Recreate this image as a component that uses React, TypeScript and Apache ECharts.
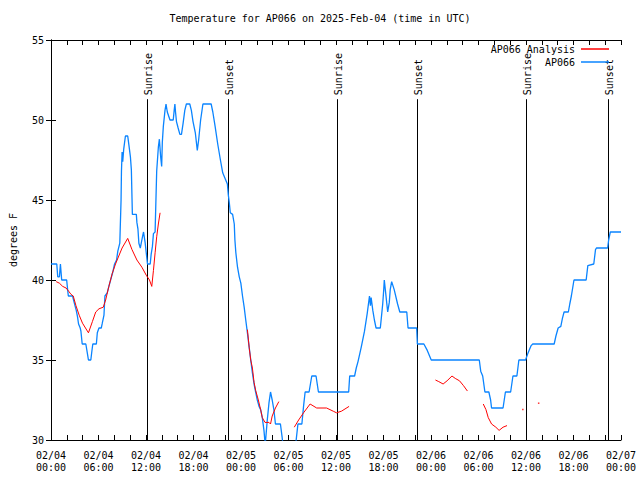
import React, { useEffect, useRef } from "react";
import * as echarts from "echarts";

// Hours since 02/04 00:00 UTC, temperature in °F
const ap066: [number, number][] = [
  [0,41],[0.73,41],[0.85,40.2],[1.06,40.2],[1.19,41],[1.27,40.5],[1.35,40],[1.98,40],[2.1,39.4],[2.19,39],[2.73,39],[2.85,38.75],[3.03,38.4],[3.19,38.1],[3.35,37.7],[3.48,37.25],[3.69,37],[3.78,36.8],[3.94,36],[4.4,36],[4.6,35.4],[4.73,35],[5.03,35],[5.15,35.5],[5.28,36],[5.73,36],[5.85,36.7],[6.06,37],[6.35,37],[6.48,37.3],[6.69,37.8],[6.81,39],[7.1,39.2],[7.31,39.6],[7.53,40],[7.81,40.5],[8.03,41],[8.28,41.25],[8.44,41.8],[8.69,42.3],[8.85,45],[8.9,46.8],[8.98,48],[9.06,47.4],[9.19,48.2],[9.4,49],[9.69,49],[9.85,48.4],[10.03,47.7],[10.15,46.9],[10.28,44.1],[10.78,44.1],[10.85,43.6],[10.98,43.2],[11.1,42.3],[11.28,42],[11.4,42.3],[11.6,42.8],[11.69,43],[11.81,42.6],[11.9,42.3],[12.03,41.7],[12.19,41],[12.53,41],[12.65,41.6],[12.81,42.1],[12.94,42.9],[13.15,43],[13.35,46.8],[13.56,48.3],[13.69,48.8],[13.85,47.7],[13.98,47.1],[14.06,48.6],[14.19,49.6],[14.4,50.6],[14.53,51],[14.69,50.5],[15.03,50],[15.44,50],[15.56,50.6],[15.65,51],[15.73,50.5],[15.85,49.9],[16.06,49.5],[16.28,49.1],[16.48,49.1],[16.69,49.8],[16.9,50.6],[17.1,51],[17.53,51],[17.73,50.6],[17.94,49.9],[18.23,49.2],[18.48,48.1],[18.65,48.75],[18.9,50],[19.19,51],[20.23,51],[20.44,50.5],[20.73,49.6],[21.06,48.5],[21.4,47.5],[21.69,46.7],[22.03,46.3],[22.28,46],[22.4,45.3],[22.53,44.8],[22.65,44.2],[22.94,44.1],[23.15,43.5],[23.23,42.5],[23.35,41.7],[23.56,40.8],[23.78,40.2],[23.98,39.8],[24.19,39],[24.4,38.3],[24.6,37.5],[24.81,36.7],[25.03,35.8],[25.23,35],[25.44,34.2],[25.65,33.5],[25.85,33],[26.06,32.5],[26.28,32.1],[26.48,31.9],[26.69,31.4],[26.9,30.6],[27.06,29.7],[27.31,31.2],[27.53,32.3],[27.73,33],[27.94,32.5],[28.15,31.9],[28.35,31],[28.98,31],[29.19,30.2],[29.44,29],[30.69,29],[30.88,29.6],[31.19,31],[31.69,31],[31.9,32.1],[32.1,33],[32.6,33],[32.94,34],[33.48,34],[33.78,33],[37.6,33],[37.73,34],[38.35,34],[38.56,34.5],[38.78,34.9],[39.19,35.8],[39.6,36.8],[39.94,37.9],[40.23,39],[40.35,38.4],[40.44,38.9],[40.65,38.1],[40.85,37.5],[41.06,37],[41.6,37],[41.78,37.9],[41.9,38.5],[42.03,39.4],[42.1,40],[42.23,39.4],[42.53,38],[42.73,38.6],[42.85,39.4],[43.03,39.9],[43.35,39.4],[43.78,38.5],[44.06,38],[44.94,38],[45.1,37],[46.19,37],[46.28,36],[47.1,36],[47.53,35.6],[48.03,35],[54.1,35],[54.28,34.3],[54.53,34],[54.81,33],[55.31,33],[55.53,32.5],[55.65,32],[57.1,32],[57.4,33],[58.06,33],[58.35,34],[58.85,34],[59.1,35],[59.94,35],[60.23,35.4],[60.65,35.9],[60.85,36],[63.56,36],[63.78,36.5],[64.06,37],[64.4,37.1],[64.6,37.6],[64.81,38],[65.35,38],[65.53,38.5],[65.73,39],[66.06,40],[67.6,40],[67.81,40.9],[68.56,41],[68.78,41.9],[68.9,42],[70.31,42],[70.44,42.5],[70.65,43],[72,43]
];

const analysisSegments: [number, number][][] = [
  [[0.65,39.9],[1.06,39.8],[1.48,39.6],[1.9,39.5],[2.23,39.3],[2.53,39.1],[2.81,39.0],[3.15,38.4],[3.56,37.8],[3.98,37.3],[4.73,36.7],[5.23,37.4],[5.65,38.0],[6.06,38.2],[6.6,38.3],[6.9,38.75],[7.31,39.6],[7.73,40.4],[8.15,41.0],[8.56,41.5],[8.98,42.0],[9.69,42.6],[10.23,41.9],[10.85,41.25],[11.48,40.8],[12.03,40.3],[12.44,40.0],[12.73,39.6],[12.94,40.6],[13.15,41.7],[13.35,42.7],[13.56,43.5],[13.78,44.2]],
  [[24.81,36.9],[25.03,35.8],[25.23,35.0],[25.44,34.5],[25.65,33.6],[25.85,33.1],[26.19,32.5],[26.48,31.9],[26.69,31.4],[27.03,31.1],[27.53,31.1],[27.73,31.0],[27.94,31.5],[28.35,32.0],[28.78,32.4]],
  [[30.73,30.8],[31.28,31.25],[31.9,31.7],[32.73,32.25],[33.56,32.0],[34.81,32.0],[35.65,31.8],[36.06,31.7],[36.69,31.8],[37.65,32.1]],
  [[48.56,33.75],[48.98,33.65],[49.53,33.5],[50.03,33.7],[50.65,34.0],[51.06,33.85],[51.6,33.7],[52.1,33.4],[52.6,33.06]],
  [[54.6,32.25],[54.94,31.9],[55.23,31.4],[55.65,31.0],[56.19,30.8],[56.6,30.6],[57.1,30.8],[57.6,30.9]],
  [[59.6,31.9]],
  [[61.6,32.3]],
];

const sunHours = [12.1, 22.35, 36.1, 46.23, 59.98, 70.31];
const sunLabels = ["Sunrise", "Sunset", "Sunrise", "Sunset", "Sunrise", "Sunset"];
const sunLineTop = 51.3;

const yTicks = [30, 35, 40, 45, 50, 55];
const dayLabels = ["02/04", "02/05", "02/06", "02/07"];

const FONT = "DejaVu Sans Mono";

export default function App() {
  const ref = useRef<HTMLDivElement>(null);
  useEffect(() => {
    if (!ref.current) return;
    document.body.style.margin = "0";
    const chart = echarts.init(ref.current, null, { renderer: "svg" });

    const lineData: any[] = [];
    const dotData: any[] = [];
    analysisSegments.forEach((seg, i) => {
      if (seg.length === 1) {
        dotData.push(seg[0]);
      } else {
        if (i > 0) lineData.push([null, null]);
        seg.forEach((p) => lineData.push(p));
      }
    });

    const fmtX = (v: number) => {
      const d = Math.floor(v / 24);
      const hh = Math.round(v - d * 24);
      return dayLabels[d] + "\n" + (hh < 10 ? "0" : "") + hh + ":00";
    };

    const axisCommon = {
      type: "value" as const,
      axisLine: { show: true, lineStyle: { color: "#000", width: 1 } },
      splitLine: { show: false },
    };

    chart.setOption({
      animation: false,
      backgroundColor: "#fff",
      title: {
        text: "Temperature for AP066 on 2025-Feb-04 (time in UTC)",
        left: "center",
        top: 8,
        textStyle: { fontFamily: FONT, fontSize: 10, fontWeight: "normal", color: "#000" },
      },
      legend: {
        orient: "vertical",
        right: 31,
        top: 43,
        padding: 0,
        align: "right",
        itemWidth: 28,
        itemHeight: 1.5,
        itemGap: 1,
        icon: "rect",
        data: ["AP066 Analysis", "AP066"],
        textStyle: { fontFamily: FONT, fontSize: 10, color: "#000", lineHeight: 12, padding: [0, 1, 0, 0] },
      },
      grid: { left: 46, right: 19, top: 40, bottom: 40 },
      xAxis: [
        {
          ...axisCommon,
          min: 0,
          max: 72,
          interval: 6,
          position: "bottom",
          axisTick: { show: true, inside: true, length: 5, lineStyle: { color: "#000" } },
          minorTick: { show: true, splitNumber: 3, length: 5, lineStyle: { color: "#000" } },
          axisLabel: {
            formatter: fmtX,
            fontFamily: FONT,
            fontSize: 10,
            color: "#000",
            lineHeight: 12,
            margin: 9,
            showMinLabel: true,
            showMaxLabel: true,
          },
        },
        {
          ...axisCommon,
          min: 0,
          max: 72,
          interval: 6,
          position: "top",
          axisTick: { show: true, inside: true, length: 5, lineStyle: { color: "#000" } },
          minorTick: { show: true, splitNumber: 3, length: 5, lineStyle: { color: "#000" } },
          axisLabel: { show: false },
        },
      ],
      yAxis: [
        {
          ...axisCommon,
          min: yTicks[0],
          max: yTicks[yTicks.length - 1],
          interval: 5,
          position: "left",
          name: "degrees F",
          nameLocation: "middle",
          nameGap: 33,
          nameRotate: 90,
          nameTextStyle: { fontFamily: FONT, fontSize: 10, color: "#000" },
          axisTick: { show: true, inside: true, length: 5, lineStyle: { color: "#000" } },
          axisLabel: { fontFamily: FONT, fontSize: 10, color: "#000", margin: 7 },
        },
        {
          ...axisCommon,
          min: yTicks[0],
          max: yTicks[yTicks.length - 1],
          interval: 5,
          position: "right",
          axisTick: { show: true, inside: true, length: 5, lineStyle: { color: "#000" } },
          axisLabel: { show: false },
        },
      ],
      series: [
        {
          name: "sun",
          type: "custom",
          xAxisIndex: 0,
          yAxisIndex: 0,
          silent: true,
          clip: false,
          data: sunHours.map((h) => [h, sunLineTop]),
          encode: { x: 0, y: 1 },
          renderItem: (params: any, api: any) => {
            const h = api.value(0);
            const top = api.coord([h, api.value(1)]);
            const bottom = api.coord([h, yTicks[0]]);
            const x = Math.round(top[0]) + 0.5;
            return {
              type: "group",
              children: [
                {
                  type: "line",
                  shape: { x1: x, y1: top[1], x2: x, y2: bottom[1] },
                  style: { stroke: "#000", lineWidth: 1 },
                },
                {
                  type: "text",
                  x: x + 1,
                  y: top[1] - 4,
                  rotation: Math.PI / 2,
                  style: {
                    text: sunLabels[params.dataIndex],
                    textAlign: "left",
                    textVerticalAlign: "middle",
                    fill: "#000",
                    fontFamily: FONT,
                    fontSize: 10,
                  },
                },
              ],
            };
          },
          z: 1,
        },
        {
          name: "AP066 Analysis",
          type: "line",
          xAxisIndex: 0,
          yAxisIndex: 0,
          data: lineData,
          showSymbol: false,
          connectNulls: false,
          color: "#ff0000",
          lineStyle: { color: "#ff0000", width: 1 },
          z: 3,
        },
        {
          name: "analysisDots",
          type: "scatter",
          xAxisIndex: 0,
          yAxisIndex: 0,
          data: dotData,
          symbol: "rect",
          symbolSize: 1.5,
          itemStyle: { color: "#ff0000" },
          z: 3,
        },
        {
          name: "AP066",
          type: "line",
          xAxisIndex: 0,
          yAxisIndex: 0,
          data: ap066,
          showSymbol: false,
          color: "#0a84ff",
          lineStyle: { color: "#0a84ff", width: 1.3 },
          clip: true,
          z: 2,
        },
      ],
    });
    return () => chart.dispose();
  }, []);
  return <div ref={ref} style={{ width: 640, height: 480 }} />;
}
